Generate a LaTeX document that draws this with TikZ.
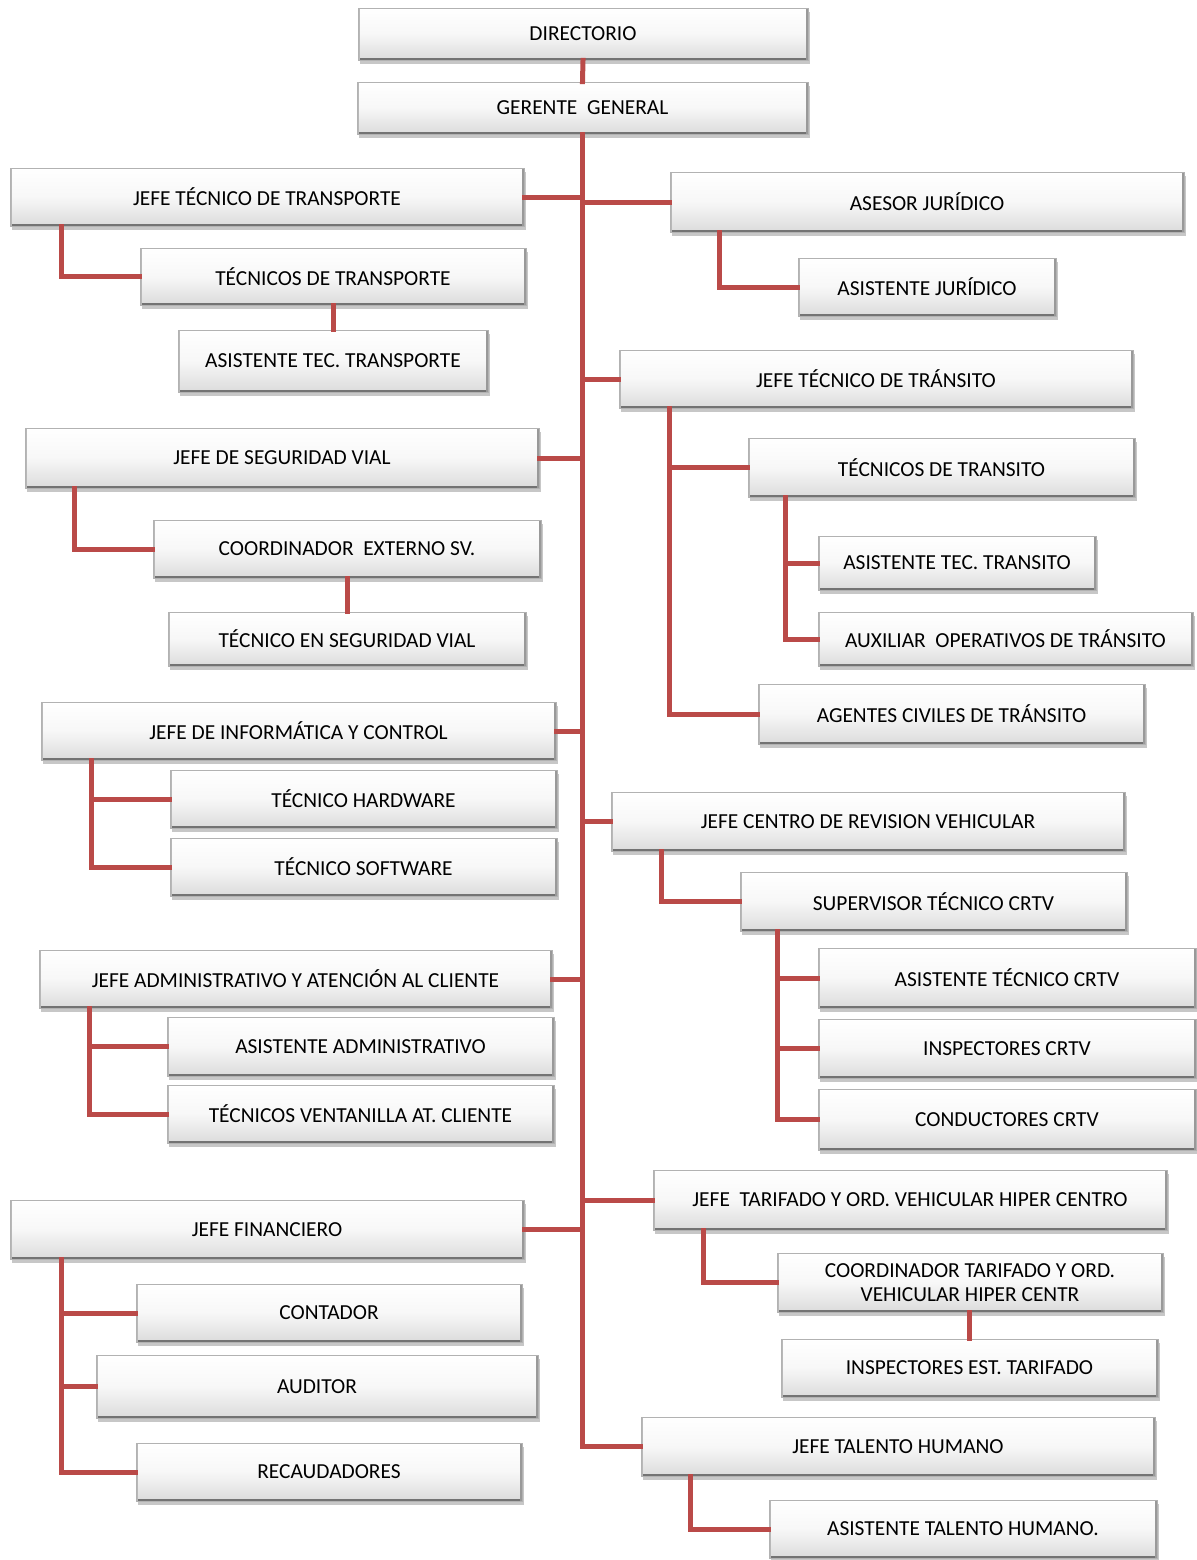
\documentclass[tikz,border=0pt]{standalone}
\usepackage{fontspec}
\setmainfont{Carlito}
\usetikzlibrary{shadows}

\definecolor{linkred}{HTML}{BA4A48}

\tikzset{
  orgbox/.style={
    rectangle, inner sep=0pt, align=center, font=\fontsize{10.7}{12.2}\selectfont,
    top color=white, bottom color=black!14, middle color=black!3,
    draw=black!30, line width=0.4pt,
    drop shadow={shadow xshift=1.2pt, shadow yshift=-2.2pt, opacity=0.22, fill=black},
    path picture={
      \draw[black!55, line width=1.6pt]
        (path picture bounding box.south west) -- (path picture bounding box.south east);
      \draw[black!28, line width=1.6pt]
        (path picture bounding box.south west) -- (path picture bounding box.north west);
      \draw[black!40, line width=1.6pt]
        (path picture bounding box.south east) -- (path picture bounding box.north east);
    }
  },
  link/.style={draw=linkred, line width=2.5pt, line cap=rect}
}

% box: name, left, top, right, bottom, text
\newcommand\orgnode[6]{%
  \pgfmathsetmacro\obw{(#4-#2)*0.5}%
  \pgfmathsetmacro\obh{(#5-#3)*0.5}%
  \node[orgbox, minimum width=\obw pt, minimum height=\obh pt] (#1) at ({(#2+#4)/2},{(#3+#5)/2}) {#6};}

\begin{document}
\begin{tikzpicture}[x=0.5pt, y=-0.5pt]
\useasboundingbox (0,0) rectangle (1196,1560);

% top of the chart
\orgnode{dir}{358}{8}{808}{60}{DIRECTORIO}
\orgnode{gg}{357}{82}{808}{134}{GERENTE\ \ GENERAL}

% left column
\orgnode{jtp}{10}{168}{524}{226}{JEFE TÉCNICO DE TRANSPORTE}
\orgnode{tp}{140}{248}{526}{305}{TÉCNICOS DE TRANSPORTE}
\orgnode{atp}{178}{330}{488}{392}{ASISTENTE TEC. TRANSPORTE}
\orgnode{jsv}{25}{428}{539}{488}{JEFE DE SEGURIDAD VIAL}
\orgnode{cesv}{153}{520}{541}{578}{COORDINADOR\ \ EXTERNO SV.}
\orgnode{tsv}{168}{612}{526}{666}{TÉCNICO EN SEGURIDAD VIAL}
\orgnode{jic}{41}{702}{556}{760}{JEFE DE INFORMÁTICA Y CONTROL}
\orgnode{thw}{170}{770}{557}{828}{TÉCNICO HARDWARE}
\orgnode{tsw}{170}{838}{557}{896}{TÉCNICO SOFTWARE}
\orgnode{jadm}{39}{950}{552}{1008}{JEFE ADMINISTRATIVO Y ATENCIÓN AL CLIENTE}
\orgnode{aadm}{167}{1017}{554}{1076}{ASISTENTE ADMINISTRATIVO}
\orgnode{tvac}{167}{1085}{554}{1143}{TÉCNICOS VENTANILLA AT. CLIENTE}
\orgnode{jfin}{10}{1200}{524}{1259}{JEFE FINANCIERO}
\orgnode{cont}{136}{1284}{522}{1342}{CONTADOR}
\orgnode{aud}{96}{1355}{538}{1418}{AUDITOR}
\orgnode{rec}{136}{1443}{522}{1501}{RECAUDADORES}

% right column
\orgnode{asj}{670}{172}{1184}{232}{ASESOR JURÍDICO}
\orgnode{aj}{798}{258}{1056}{316}{ASISTENTE JURÍDICO}
\orgnode{jtr}{619}{350}{1133}{408}{JEFE TÉCNICO DE TRÁNSITO}
\orgnode{ttr}{748}{438}{1135}{497}{TÉCNICOS DE TRANSITO}
\orgnode{attr}{818}{536}{1096}{590}{ASISTENTE TEC. TRANSITO}
\orgnode{aotr}{818}{612}{1193}{666}{AUXILIAR\ \ OPERATIVOS DE TRÁNSITO}
\orgnode{actr}{758}{684}{1145}{744}{AGENTES CIVILES DE TRÁNSITO}
\orgnode{jcrv}{611}{792}{1125}{851}{JEFE CENTRO DE REVISION VEHICULAR}
\orgnode{stc}{740}{872}{1127}{931}{SUPERVISOR TÉCNICO CRTV}
\orgnode{atc}{818}{948}{1196}{1008}{ASISTENTE TÉCNICO CRTV}
\orgnode{icrtv}{818}{1019}{1196}{1078}{INSPECTORES CRTV}
\orgnode{ccrtv}{818}{1089}{1196}{1150}{CONDUCTORES CRTV}
\orgnode{jtar}{653}{1170}{1167}{1230}{JEFE\ \ TARIFADO Y ORD. VEHICULAR HIPER CENTRO}
\orgnode{ctar}{777}{1253}{1163}{1312}{COORDINADOR TARIFADO Y ORD.\\VEHICULAR HIPER CENTR}
\orgnode{iet}{781}{1339}{1158}{1397}{INSPECTORES EST. TARIFADO}
\orgnode{jth}{641}{1417}{1155}{1476}{JEFE TALENTO HUMANO}
\orgnode{ath}{769}{1500}{1157}{1558}{ASISTENTE TALENTO HUMANO.}

% main trunk
\draw[link] (dir.south) -- (gg.north);
\draw[link] (gg.south) |- (jth.west);

% branches from the trunk
\foreach \n in {jtp, jsv, jic, jadm, jfin}
  \draw[link] (\n.east) -- (\n.east -| gg.south);
\foreach \n in {asj, jtr, jcrv, jtar}
  \draw[link] (\n.west -| gg.south) -- (\n.west);

% sub-branches, left column
\draw[link] ([xshift=26pt]jtp.south west) |- (tp.west);
\draw[link] (tp.south) -- (atp.north);
\draw[link] ([xshift=25pt]jsv.south west) |- (cesv.west);
\draw[link] (cesv.south) -- (tsv.north);
\draw[link] ([xshift=25.5pt]jic.south west) |- (tsw.west);
\draw[link] ([xshift=25.5pt]jic.south west) |- (thw.west);
\draw[link] ([xshift=25.5pt]jadm.south west) |- (tvac.west);
\draw[link] ([xshift=25.5pt]jadm.south west) |- (aadm.west);
\draw[link] ([xshift=26pt]jfin.south west) |- (rec.west);
\draw[link] ([xshift=26pt]jfin.south west) |- (aud.west);
\draw[link] ([xshift=26pt]jfin.south west) |- (cont.west);

% sub-branches, right column
\draw[link] ([xshift=25pt]asj.south west) |- (aj.west);
\draw[link] ([xshift=25.5pt]jtr.south west) |- (actr.west);
\draw[link] ([xshift=25.5pt]jtr.south west) |- (ttr.west);
\draw[link] ([xshift=19pt]ttr.south west) |- (aotr.west);
\draw[link] ([xshift=19pt]ttr.south west) |- (attr.west);
\draw[link] ([xshift=25.5pt]jcrv.south west) |- (stc.west);
\draw[link] ([xshift=19pt]stc.south west) |- (ccrtv.west);
\draw[link] ([xshift=19pt]stc.south west) |- (icrtv.west);
\draw[link] ([xshift=19pt]stc.south west) |- (atc.west);
\draw[link] ([xshift=25.5pt]jtar.south west) |- (ctar.west);
\draw[link] (ctar.south -| iet.north) -- (iet.north);
\draw[link] ([xshift=25pt]jth.south west) |- (ath.west);
\end{tikzpicture}
\end{document}
